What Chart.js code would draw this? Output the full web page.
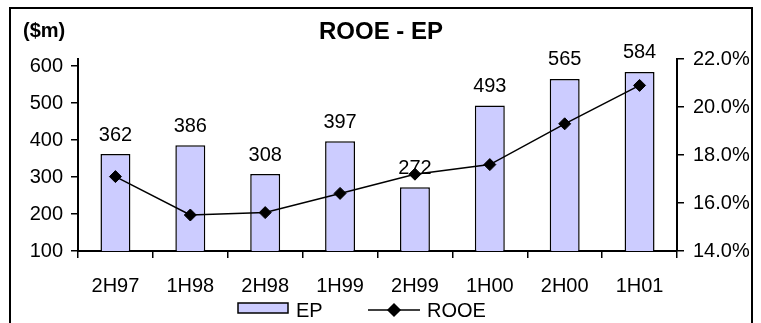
<!DOCTYPE html>
<html>
<head>
<meta charset="utf-8">
<script src="https://cdn.jsdelivr.net/npm/chart.js@4.4.0/dist/chart.umd.min.js"></script>
<style>
  body { margin: 0; background: #fff; }
  canvas { display: block; }
</style>
</head>
<body>
<canvas id="chart" width="761" height="323"></canvas>
<script>
const periods = ["2H97", "1H98", "2H98", "1H99", "2H99", "1H00", "2H00", "1H01"];
const epValues = [362, 386, 308, 397, 272, 493, 565, 584];
const rooeValues = [17.1, 15.5, 15.6, 16.4, 17.2, 17.6, 19.3, 20.9];
const leftTicks = [100, 200, 300, 400, 500, 600];
const rightTicks = [14, 16, 18, 20, 22];

const FONT = "Arial, 'Liberation Sans', sans-serif";

// frame, titles, bar labels and legend drawn by hand like the Excel original
const decorations = {
  id: "decorations",
  afterDatasetsDraw(chart) {
    const ctx = chart.ctx;
    ctx.save();

    // outer frame
    ctx.strokeStyle = "#000";
    ctx.lineWidth = 2;
    ctx.strokeRect(10, 8, 742, 330);

    ctx.fillStyle = "#000";
    ctx.textBaseline = "middle";
    ctx.font = "bold 24px " + FONT;
    ctx.textAlign = "center";
    ctx.fillText("ROOE - EP", 381, 32);
    ctx.font = "bold 20px " + FONT;
    ctx.textAlign = "left";
    ctx.fillText("($m)", 23, 31);

    // values above bars
    ctx.font = "20px " + FONT;
    ctx.textAlign = "center";
    chart.getDatasetMeta(0).data.forEach((bar, i) => {
      ctx.fillText(String(epValues[i]), bar.x, bar.y - 19);
    });

    // legend
    const ep = chart.data.datasets[0];
    ctx.fillStyle = ep.backgroundColor;
    ctx.fillRect(238, 303, 50, 10);
    ctx.lineWidth = 1.5;
    ctx.strokeStyle = "#000";
    ctx.strokeRect(238, 303, 50, 10);
    ctx.fillStyle = "#000";
    ctx.textAlign = "left";
    ctx.font = "20px " + FONT;
    ctx.fillText(ep.label, 296, 311);

    const rooe = chart.data.datasets[1];
    ctx.beginPath();
    ctx.moveTo(368, 310);
    ctx.lineTo(420, 310);
    ctx.lineWidth = 1.5;
    ctx.stroke();
    Chart.helpers.drawPoint(ctx, { pointStyle: "rectRot", radius: 6, borderWidth: 1 }, 394, 310);
    ctx.fill();
    ctx.fillText(rooe.label, 427, 311);

    ctx.restore();
  },
};

const ctx = document.getElementById("chart").getContext("2d");

new Chart(ctx, {
  type: "bar",
  data: {
    labels: periods,
    datasets: [
      {
        label: "EP",
        data: epValues,
        backgroundColor: "#CCCCFF",
        borderColor: "#000",
        borderWidth: 1.5,
        barPercentage: 0.4,
        categoryPercentage: 1.0,
        yAxisID: "y",
        order: 2,
      },
      {
        type: "line",
        label: "ROOE",
        data: rooeValues,
        borderColor: "#000",
        borderWidth: 1.5,
        backgroundColor: "#000",
        pointStyle: "rectRot",
        pointRadius: 6,
        pointBorderWidth: 1,
        tension: 0,
        yAxisID: "y1",
        order: 1,
      },
    ],
  },
  options: {
    responsive: false,
    animation: false,
    devicePixelRatio: 1,
    layout: { padding: { top: 59, left: 0, right: 0, bottom: 0 } },
    plugins: {
      legend: { display: false },
      title: { display: false },
      tooltip: { enabled: false },
    },
    scales: {
      x: {
        offset: true,
        grid: {
          offset: true,
          drawOnChartArea: false,
          drawTicks: true,
          tickLength: 7,
          color: "#000",
          lineWidth: 1.5,
        },
        border: { display: true, color: "#000", width: 2 },
        ticks: {
          color: "#000",
          font: { family: FONT, size: 20 },
          padding: 16,
          maxRotation: 0,
          autoSkip: false,
        },
        afterFit(scale) {
          scale.height = 72;
        },
      },
      y: {
        position: "left",
        min: 100,
        max: 619,
        grid: {
          drawOnChartArea: false,
          tickLength: 7,
          color: "#000",
          lineWidth: 1.5,
        },
        border: { display: true, color: "#000", width: 2 },
        afterBuildTicks(scale) {
          scale.ticks = leftTicks.map((v) => ({ value: v }));
        },
        ticks: {
          color: "#000",
          font: { family: FONT, size: 20 },
          padding: 8,
        },
        afterFit(scale) {
          scale.width = 78;
        },
      },
      y1: {
        position: "right",
        min: 14,
        max: 22,
        grid: {
          drawOnChartArea: false,
          tickLength: 7,
          color: "#000",
          lineWidth: 1.5,
        },
        border: { display: true, color: "#000", width: 2 },
        afterBuildTicks(scale) {
          scale.ticks = rightTicks.map((v) => ({ value: v }));
        },
        ticks: {
          color: "#000",
          font: { family: FONT, size: 20 },
          padding: 9,
          callback: (v) => v.toFixed(1) + "%",
        },
        afterFit(scale) {
          scale.width = 84;
        },
      },
    },
  },
  plugins: [decorations],
});
</script>
</body>
</html>
